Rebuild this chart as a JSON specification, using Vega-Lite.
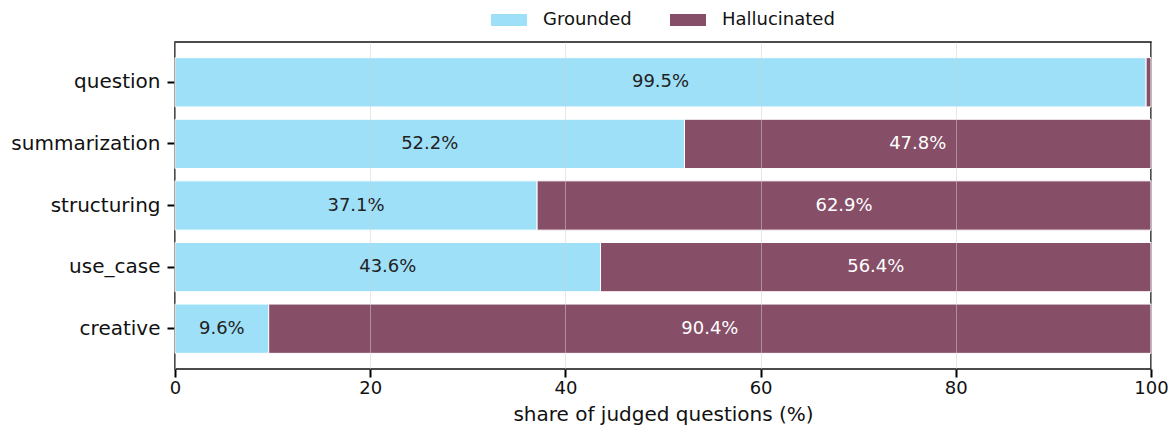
{
  "$schema": "https://vega.github.io/schema/vega-lite/v6.json",
  "width": 976,
  "height": 327,
  "autosize": {"type": "none"},
  "padding": {"left": 175, "top": 42, "right": 21, "bottom": 62},
  "background": "white",
  "config": {
    "font": "DejaVu Sans",
    "view": {"stroke": "#111111", "strokeWidth": 1.5},
    "axis": {"labelFont": "DejaVu Sans", "titleFont": "DejaVu Sans", "labelColor": "#111111", "titleColor": "#111111", "domain": false, "titleFontWeight": "normal"},
    "legend": {"labelFont": "DejaVu Sans"}
  },
  "data": {
    "values": [
      {"category": "question", "segment": "Grounded", "value": 99.5, "order": 1},
      {"category": "question", "segment": "Hallucinated", "value": 0.5, "order": 2},
      {"category": "summarization", "segment": "Grounded", "value": 52.2, "order": 1},
      {"category": "summarization", "segment": "Hallucinated", "value": 47.8, "order": 2},
      {"category": "structuring", "segment": "Grounded", "value": 37.1, "order": 1},
      {"category": "structuring", "segment": "Hallucinated", "value": 62.9, "order": 2},
      {"category": "use_case", "segment": "Grounded", "value": 43.6, "order": 1},
      {"category": "use_case", "segment": "Hallucinated", "value": 56.4, "order": 2},
      {"category": "creative", "segment": "Grounded", "value": 9.6, "order": 1},
      {"category": "creative", "segment": "Hallucinated", "value": 90.4, "order": 2}
    ]
  },
  "transform": [
    {"stack": "value", "groupby": ["category"], "sort": [{"field": "order", "order": "ascending"}], "as": ["x0", "x1"]},
    {"calculate": "(datum.x0 + datum.x1) / 2", "as": "mid"},
    {"calculate": "format(datum.value, '.1f') + '%'", "as": "label"}
  ],
  "layer": [
    {
      "mark": {"type": "bar", "stroke": "white", "strokeWidth": 1},
      "encoding": {
        "y": {
          "field": "category",
          "type": "nominal",
          "sort": ["question", "summarization", "structuring", "use_case", "creative"],
          "scale": {"paddingInner": 0.2, "paddingOuter": 0.254},
          "axis": {"title": null, "labelFontSize": 20, "ticks": true, "tickSize": 8, "tickWidth": 2, "tickColor": "#000000", "tickOpacity": 1, "labelPadding": 7, "grid": false}
        },
        "x": {
          "field": "x0",
          "type": "quantitative",
          "scale": {"domain": [0, 100], "nice": false},
          "axis": {
            "title": "share of judged questions (%)",
            "values": [0, 20, 40, 60, 80, 100],
            "labelFontSize": 18,
            "labelFlush": false,
            "titleFontSize": 20,
            "ticks": true,
            "tickSize": 8,
            "tickWidth": 2,
            "tickColor": "#000000",
            "tickOpacity": 1,
            "labelPadding": 2,
            "titlePadding": 7,
            "grid": true,
            "gridColor": "#d0d0d0",
            "gridOpacity": 0.5,
            "gridWidth": 1,
            "zindex": 1
          }
        },
        "x2": {"field": "x1"},
        "color": {
          "field": "segment",
          "type": "nominal",
          "scale": {"domain": ["Grounded", "Hallucinated"], "range": ["#9fe0f9", "#864e67"]},
          "legend": {
            "title": null,
            "orient": "none",
            "direction": "horizontal",
            "legendX": 316,
            "legendY": -40,
            "symbolType": "M-1,-0.333H1V0.333H-1Z",
            "symbolSize": 1296,
            "symbolStrokeWidth": 0,
            "labelFontSize": 18,
            "labelColor": "#111111",
            "labelOffset": 16,
            "columnPadding": 38
          }
        },
        "order": {"field": "order", "type": "quantitative"}
      }
    },
    {
      "transform": [{"filter": "datum.value >= 2"}],
      "mark": {"type": "text", "fontSize": 18, "align": "center", "baseline": "middle"},
      "encoding": {
        "y": {
          "field": "category",
          "type": "nominal",
          "sort": ["question", "summarization", "structuring", "use_case", "creative"]
        },
        "x": {"field": "mid", "type": "quantitative"},
        "text": {"field": "label", "type": "nominal"},
        "color": {
          "condition": {"test": "datum.segment === 'Hallucinated'", "value": "white"},
          "value": "#222222"
        }
      }
    }
  ]
}
